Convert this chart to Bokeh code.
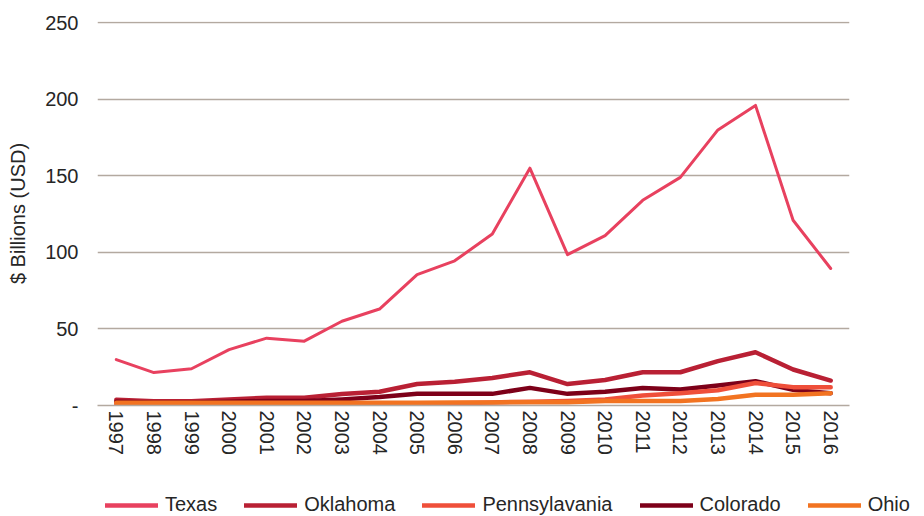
from bokeh.plotting import figure
from bokeh.models import Legend, LegendItem, FactorRange, FixedTicker, Range1d
from bokeh.layouts import column
from bokeh.embed import file_html
from bokeh.resources import INLINE

years = [str(y) for y in range(1997, 2017)]
texas = [30, 21.5, 24, 36.5, 44, 42, 55, 63, 85.5, 94.5, 112, 155, 98.5, 111, 134, 149, 180, 196, 121, 89.5]
oklahoma = [3.7, 2.8, 2.8, 4, 5, 5, 7.5, 9, 14, 15.5, 18, 21.7, 14, 16.7, 21.7, 21.7, 29, 34.8, 23.5, 16.3]
pennsylvania = [1, 1, 1, 1, 1, 1, 1, 1, 1, 1.5, 2, 2.5, 3, 4, 6.5, 8, 10, 14.7, 12, 12]
colorado = [2.5, 2, 2, 2.5, 3, 3, 4, 5.5, 7.6, 7.6, 7.6, 11.5, 7.6, 9, 11.5, 10.4, 13, 15.9, 10.2, 8]
ohio = [1.8, 1.8, 1.8, 1.8, 1.8, 1.8, 1.8, 1.8, 1.8, 2, 2, 2.2, 2.2, 3, 3, 3, 4.3, 7, 7, 8]
y_ticks = [0, 50, 100, 150, 200, 250]
y_tick_labels = ["-", "50", "100", "150", "200", "250"]

FONT = "Liberation Sans"
TXT = "#262626"
GRID = "#B3A9A0"

p = figure(width=924, height=478, x_range=FactorRange(*years, range_padding=0),
           y_range=Range1d(0, 250.8), output_backend="svg", toolbar_location=None,
           min_border_left=97, min_border_right=75, min_border_top=21, min_border_bottom=73)
p.outline_line_color = None

series = [
    ("Texas", texas, "#E8415F", 3),
    ("Oklahoma", oklahoma, "#B92034", 4.5),
    ("Colorado", colorado, "#7D0019", 4.5),
    ("Pennsylavania", pennsylvania, "#EF4F3A", 4.5),
    ("Ohio", ohio, "#F27321", 4.5),
]
for name, vals, col, w in series:
    p.line(years, vals, line_color=col, line_width=w, line_join="round", line_cap="round")

p.xgrid.grid_line_color = None
p.ygrid.grid_line_color = GRID
p.ygrid.grid_line_width = 1.3
p.ygrid.ticker = FixedTicker(ticks=y_ticks)

p.yaxis.ticker = FixedTicker(ticks=y_ticks)
p.yaxis.major_label_overrides = {t: l for t, l in zip(y_ticks, y_tick_labels)}
p.yaxis.axis_line_color = None
p.yaxis.major_tick_line_color = None
p.yaxis.minor_tick_line_color = None
p.yaxis.major_tick_out = 0
p.yaxis.minor_tick_out = 0
p.yaxis.major_label_standoff = 19
p.yaxis.major_label_text_font = FONT
p.yaxis.major_label_text_font_size = "20px"
p.yaxis.major_label_text_color = TXT
p.yaxis.axis_label = "$ Billions (USD)"
p.yaxis.axis_label_text_font = FONT
p.yaxis.axis_label_text_font_size = "20px"
p.yaxis.axis_label_text_font_style = "normal"
p.yaxis.axis_label_text_color = TXT
p.yaxis.axis_label_standoff = 13

p.xaxis.axis_line_color = GRID
p.xaxis.axis_line_width = 1.3
p.xaxis.major_tick_line_color = None
p.xaxis.minor_tick_line_color = None
p.xaxis.major_tick_out = 0
p.xaxis.minor_tick_out = 0
p.xaxis.major_label_orientation = "vertical"
p.xaxis.major_label_standoff = 5
p.xaxis.major_label_text_font = FONT
p.xaxis.major_label_text_font_size = "20px"
p.xaxis.major_label_text_color = TXT

# legend strip below the chart
lg = figure(width=924, height=38, x_range=(0, 1), y_range=(0, 1), output_backend="svg",
            toolbar_location=None, min_border=0)
lg.axis.visible = False
lg.grid.visible = False
lg.outline_line_color = None
style = {name: col for name, vals, col, w in series}
order = ["Texas", "Oklahoma", "Pennsylavania", "Colorado", "Ohio"]
items = []
for n in order:
    r = lg.line([-2, -1], [-2, -1], line_color=style[n], line_width=4.5, line_cap="round")
    items.append(LegendItem(label=n, renderers=[r]))
legend = Legend(items=items, orientation="horizontal", location=(105, 0),
                glyph_width=53, glyph_height=20, label_height=20, label_standoff=7,
                spacing=27, padding=0, margin=0,
                label_text_font=FONT, label_text_font_size="20px", label_text_color=TXT,
                background_fill_alpha=0, border_line_color=None)
lg.add_layout(legend, "center")

open("out.html", "w").write(file_html(column(p, column(lg)), INLINE))
